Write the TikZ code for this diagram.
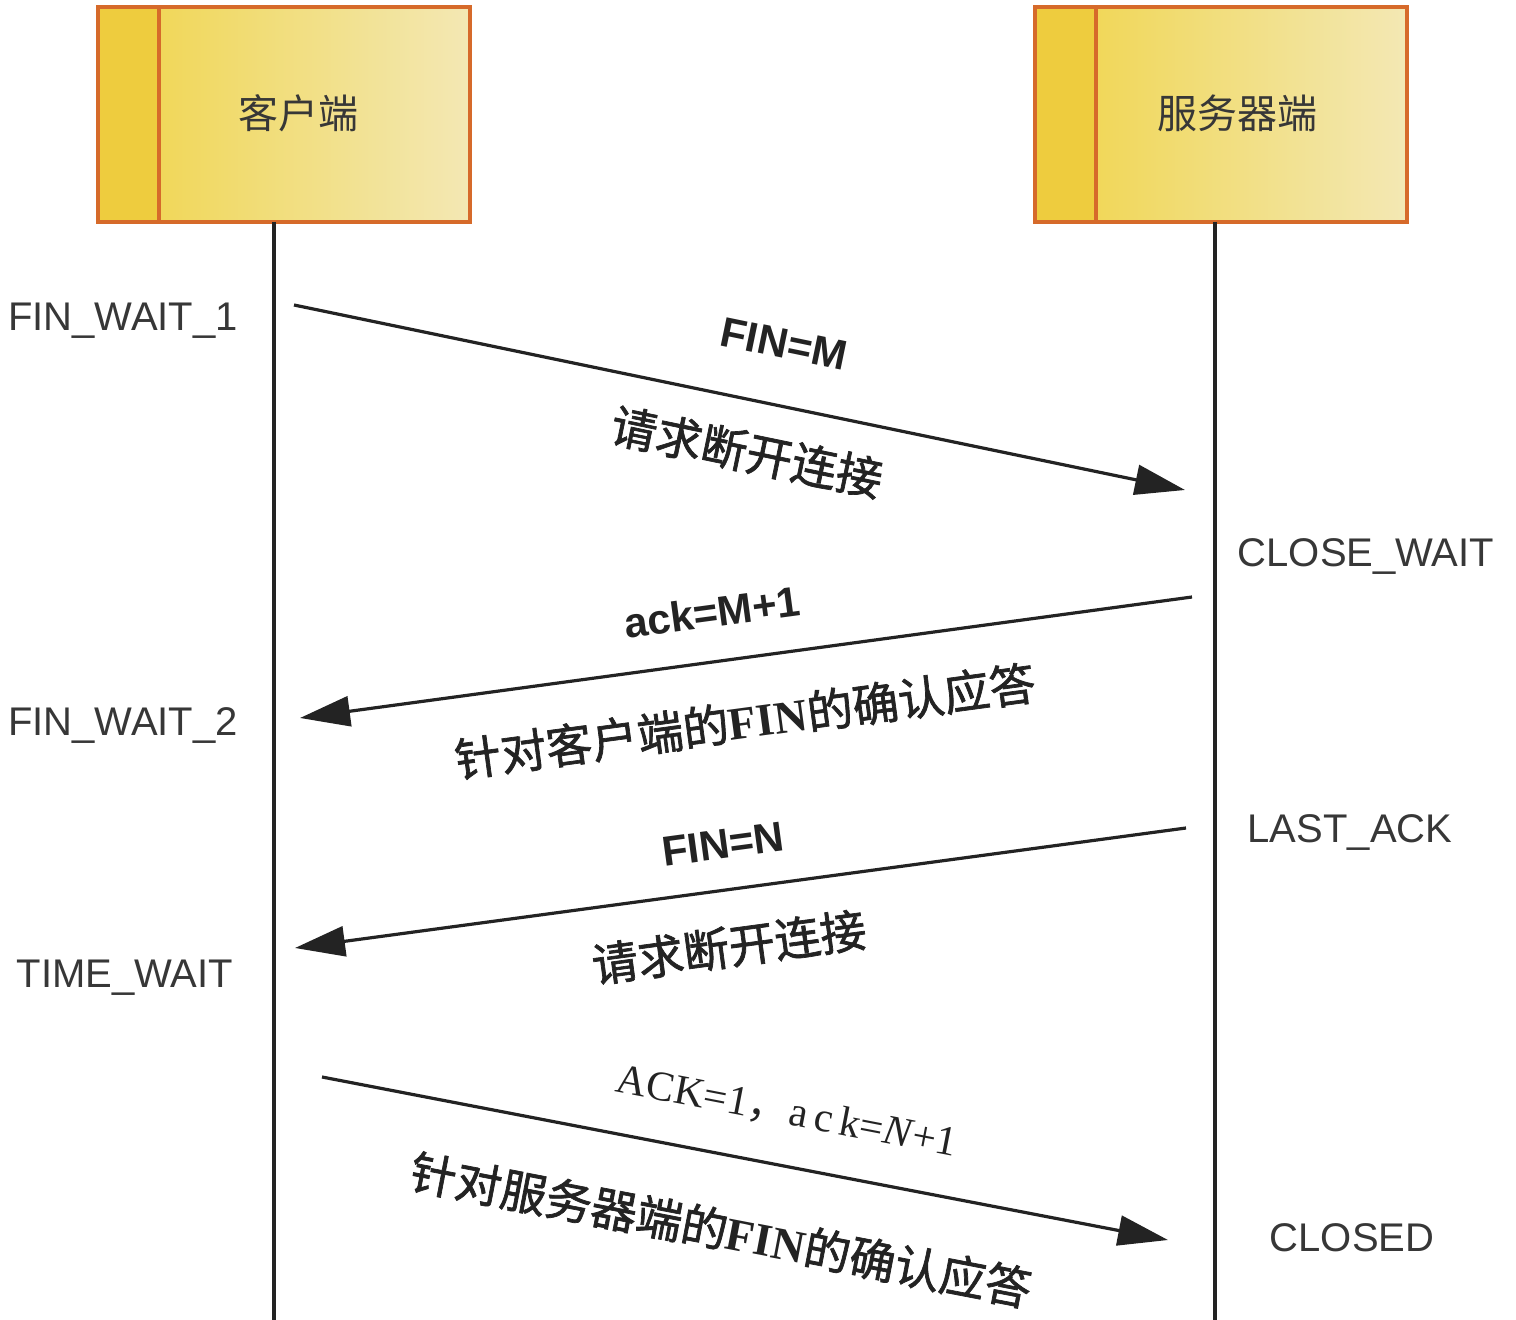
\documentclass[tikz,border=0pt]{standalone}
\usepackage{fontspec}
\setmainfont{Liberation Sans}
\newfontfamily\cjk{Noto Sans CJK SC}
\newfontfamily\cjkb[FakeBold=1.5]{Noto Sans CJK SC}
\newfontfamily\lser{Liberation Serif}
\usetikzlibrary{arrows.meta,calc}
\definecolor{boxborder}{RGB}{214,106,42}
\definecolor{stripfill}{RGB}{238,204,62}
\definecolor{gradleft}{RGB}{240,212,72}
\definecolor{gradright}{RGB}{243,232,180}
\definecolor{textgray}{RGB}{55,55,55}
\definecolor{ink}{RGB}{35,35,35}
\begin{document}
\begin{tikzpicture}[x=0.5pt,y=-0.5pt,
  actor/.style={draw=boxborder,line width=2pt,left color=gradleft,right color=gradright,
    minimum width=186pt,minimum height=107.5pt,inner sep=0pt,outer sep=0pt,anchor=north west},
  strip/.style={draw=boxborder,line width=2pt,fill=stripfill},
  actorlabel/.style={font=\cjk\fontsize{20pt}{24pt}\selectfont,text=textgray,inner sep=0pt},
  lifeline/.style={draw=ink,line width=1.6pt},
  msg/.style={draw=ink,line width=1.6pt,-{Triangle[length=25pt,width=15pt]}},
  state/.style={font=\fontsize{20pt}{24pt}\selectfont,text=textgray,inner sep=0pt,anchor=base},
  msgtop/.style={font=\bfseries\fontsize{21pt}{25pt}\selectfont,text=ink,inner sep=0pt},
  msgcjk/.style={font=\cjkb\fontsize{23pt}{27pt}\selectfont,text=ink,inner sep=0pt}
]
\useasboundingbox[fill=white] (0,0) rectangle (1516,1320);

% actors
\node[actor] (client) at (98,7) {};
\draw[strip] (client.north west) rectangle ($(client.south west)+(61,0)$);
\node[actorlabel] (clientlabel) at (298,113) {客户端};
\node[actor] (server) at (1035,7) {};
\draw[strip] (server.north west) rectangle ($(server.south west)+(61,0)$);
\node[actorlabel] (serverlabel) at (1237,113) {服务器端};

% lifelines
\coordinate (cend) at (274,1320);
\coordinate (send) at (1215,1320);
\draw[lifeline] (client.south -| cend) -- (cend);
\draw[lifeline] (server.south -| send) -- (send);

% states
\node[state] (s1) at (123,331) {FIN\_WAIT\_1};
\node[state] (s2) at (1366,567) {CLOSE\_WAIT};
\node[state] (s3) at (123,736) {FIN\_WAIT\_2};
\node[state] (s4) at (1350,842) {LAST\_ACK};
\node[state] (s5) at (125,987) {TIME\_WAIT};
\node[state] (s6) at (1352,1251) {CLOSED};

% message 1
\coordinate (m1s) at (294,305);
\coordinate (m1e) at (1185,490);
\draw[msg] (m1s) -- (m1e);
\node[msgtop,rotate=-11.7] (l1a) at (784,344) {FIN=M};
\node[msgcjk,rotate=-11.7] (l1b) at (747,452) {请求断开连接};

% message 2
\coordinate (m2s) at (1192,597);
\coordinate (m2e) at (300,718);
\draw[msg] (m2s) -- (m2e);
\node[msgtop,rotate=7.7] (l2a) at (712,612) {ack=M+1};
\node[msgcjk,rotate=7.7] (l2b) at (745,721) {针对客户端的{\lser\bfseries FIN}的确认应答};

% message 3
\coordinate (m3s) at (1186,828);
\coordinate (m3e) at (295,948);
\draw[msg] (m3s) -- (m3e);
\node[msgtop,rotate=7.7] (l3a) at (723,844) {FIN=N};
\node[msgcjk,rotate=7.7] (l3b) at (729,947) {请求断开连接};

% message 4
\coordinate (m4s) at (322,1077);
\coordinate (m4e) at (1168,1240);
\draw[msg] (m4s) -- (m4e);
\node[font=\lser\fontsize{21pt}{25pt}\selectfont,text=ink,inner sep=0pt,rotate=-10.9] (l4a) at (787,1112) {ACK=1{\cjk ，}a\,c\,k=\textit{N}+1};
\node[msgcjk,rotate=-10.9] (l4b) at (721,1230) {针对服务器端的{\lser\bfseries FIN}的确认应答};
\end{tikzpicture}
\end{document}
